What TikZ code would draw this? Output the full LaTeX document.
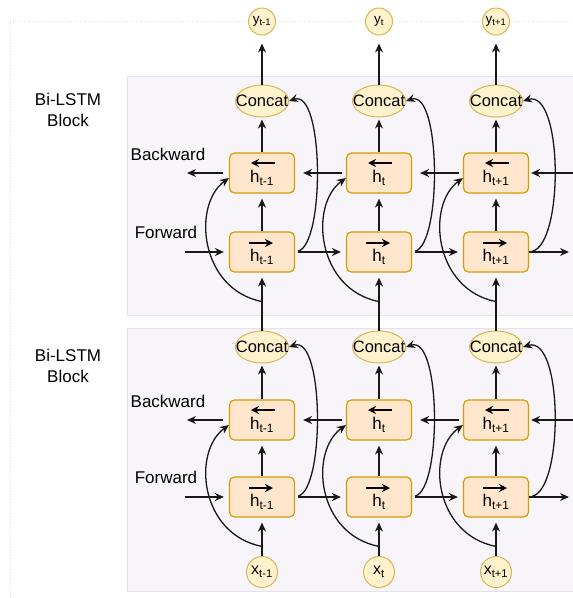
\documentclass[tikz,border=0pt]{standalone}
\usepackage{fontspec}
\setmainfont{Liberation Sans}
\usetikzlibrary{arrows.meta, shapes.geometric, calc}

\definecolor{cellfill}{HTML}{FFE6CC}
\definecolor{celldraw}{HTML}{D79B00}
\definecolor{catfill}{HTML}{FFF2CC}
\definecolor{catdraw}{HTML}{D6B656}
\definecolor{blockfill}{HTML}{F7F5FA}
\definecolor{blockdraw}{HTML}{E6E1EC}

\newcommand{\hsub}[1]{h\textsubscript{#1}}
\newcommand{\concattext}{\makebox[0pt]{Concat}}

\begin{document}
\begin{tikzpicture}[%
        x = 1pt, y = -1pt,
        > = {Stealth[length = 9pt, width = 8pt]},
        every node/.style = {%
            font = \fontsize{17}{20.5}\selectfont
        },
        cell/.style = {%
            draw = celldraw, fill = cellfill, line width = 1.2pt,
            rounded corners = 5pt, inner sep = 0pt,
            minimum width = 65pt, minimum height = 40pt,
            text height = 19pt, text depth = 0pt
        },
        hat/.style = {%
            draw = black, line width = 1.6pt, rounded corners = 0pt,
            -{Stealth[length = 8pt, width = 8pt]}
        },
        bwdcell/.style = {%
            cell,
            path picture = {%
                \draw[hat] ($(path picture bounding box.center) + (13, -10)$) -- ++(-24, 0);
            }
        },
        fwdcell/.style = {%
            cell,
            path picture = {%
                \draw[hat] ($(path picture bounding box.center) + (-13, -9)$) -- ++(24, 0);
            }
        },
        concat/.style = {%
            ellipse, draw = catdraw, fill = catfill, line width = 1pt,
            minimum width = 53pt, minimum height = 32pt, inner sep = 0pt,
            font = \fontsize{16.5}{18}\selectfont
        },
        yout/.style = {%
            circle, draw = catdraw, fill = catfill, line width = 1pt,
            minimum size = 27pt, inner sep = 0pt,
            font = \fontsize{13.5}{15}\selectfont
        },
        xin/.style = {%
            circle, draw = catdraw, fill = catfill, line width = 1pt,
            minimum size = 31pt, inner sep = 0pt,
            font = \fontsize{16}{18}\selectfont
        },
        flow/.style = {->, line width = 1.3pt, draw = black!90}
    ]

        \useasboundingbox (0, 0) rectangle (573, 598);

        % Dotted frame round the whole figure.
        \draw[gray!25, dotted, line width = 0.8pt] (10, 598) -- (10, 21) -- (580, 21);

        % The two Bi-LSTM blocks.
        \draw[fill = blockfill, draw = blockdraw, line width = 1pt] (127, 76) rectangle (590, 315);
        \draw[fill = blockfill, draw = blockdraw, line width = 1pt] (127, 328) rectangle (590, 591);

        \node[align = center] (blkU) at (68, 110) {Bi-LSTM\\Block};
        \node[align = center] (blkL) at (68, 366) {Bi-LSTM\\Block};
        \node (bwdtxtU) at (168, 154) {Backward};
        \node (fwdtxtU) at (166, 232) {Forward};
        \node (bwdtxtL) at (168, 401) {Backward};
        \node (fwdtxtL) at (166, 477) {Forward};

        % Outputs on top.
        \node[yout] (y1) at (262, 21.5) {y\textsubscript{t-1}};
        \node[yout] (y2) at (379, 21.5) {y\textsubscript{t}};
        \node[yout] (y3) at (496, 21.5) {y\textsubscript{t+1}};

        % Upper block.
        \node[concat] (catU1) at (262, 101) {\concattext};
        \node[concat] (catU2) at (379, 101) {\concattext};
        \node[concat] (catU3) at (496, 101) {\concattext};
        \node[bwdcell] (bwdU1) at (262, 173) {\hsub{t-1}};
        \node[bwdcell] (bwdU2) at (379, 173) {\hsub{t}};
        \node[bwdcell] (bwdU3) at (496, 173) {\hsub{t+1}};
        \node[fwdcell] (fwdU1) at (262, 252) {\hsub{t-1}};
        \node[fwdcell] (fwdU2) at (379, 252) {\hsub{t}};
        \node[fwdcell] (fwdU3) at (496, 252) {\hsub{t+1}};

        % Lower block.
        \node[concat] (catL1) at (262, 347) {\concattext};
        \node[concat] (catL2) at (379, 347) {\concattext};
        \node[concat] (catL3) at (496, 347) {\concattext};
        \node[bwdcell] (bwdL1) at (262, 420) {\hsub{t-1}};
        \node[bwdcell] (bwdL2) at (379, 420) {\hsub{t}};
        \node[bwdcell] (bwdL3) at (496, 420) {\hsub{t+1}};
        \node[fwdcell] (fwdL1) at (262, 497) {\hsub{t-1}};
        \node[fwdcell] (fwdL2) at (379, 497) {\hsub{t}};
        \node[fwdcell] (fwdL3) at (496, 497) {\hsub{t+1}};

        % Inputs at the bottom.
        \node[xin] (x1) at (262, 572) {x\textsubscript{t-1}};
        \node[xin] (x2) at (379, 572) {x\textsubscript{t}};
        \node[xin] (x3) at (496, 572) {x\textsubscript{t+1}};

        % Free ends of the side arrows.
        \coordinate (bwdoutU) at (187, 173);
        \coordinate (fwdinU) at (185, 252);
        \coordinate (bwdinU) at (575, 173);
        \coordinate (fwdoutU) at (569, 252);
        \coordinate (bwdoutL) at (187, 420);
        \coordinate (fwdinL) at (185, 497);
        \coordinate (bwdinL) at (575, 420);
        \coordinate (fwdoutL) at (569, 497);

        % Where the inputs split off to the backward cells.
        \coordinate (splitU1) at ($(catL1.north)!0.5!(fwdU1.south)$);
        \coordinate (splitU2) at ($(catL2.north)!0.5!(fwdU2.south)$);
        \coordinate (splitU3) at ($(catL3.north)!0.5!(fwdU3.south)$);
        \coordinate (splitL1) at ($(x1.north)!0.25!(fwdL1.south)$);
        \coordinate (splitL2) at ($(x2.north)!0.25!(fwdL2.south)$);
        \coordinate (splitL3) at ($(x3.north)!0.25!(fwdL3.south)$);

        % Concat up to the outputs.
        \draw[flow, shorten > = 8pt] (catU1.north) -- (y1.south);
        \draw[flow, shorten > = 8pt] (catU2.north) -- (y2.south);
        \draw[flow, shorten > = 8pt] (catU3.north) -- (y3.south);

        % Upward flow inside the upper block.
        \draw[flow, shorten > = 5pt] (catL1.north) -- (fwdU1.south);
        \draw[flow, shorten > = 5pt] (catL2.north) -- (fwdU2.south);
        \draw[flow, shorten > = 5pt] (catL3.north) -- (fwdU3.south);
        \draw[flow, shorten > = 5pt] (fwdU1.north) -- (bwdU1.south);
        \draw[flow, shorten > = 5pt] (fwdU2.north) -- (bwdU2.south);
        \draw[flow, shorten > = 5pt] (fwdU3.north) -- (bwdU3.south);
        \draw[flow, shorten > = 2pt] (bwdU1.north) -- (catU1.south);
        \draw[flow, shorten > = 2pt] (bwdU2.north) -- (catU2.south);
        \draw[flow, shorten > = 2pt] (bwdU3.north) -- (catU3.south);

        % Upward flow inside the lower block.
        \draw[flow, shorten > = 5pt] (x1.north) -- (fwdL1.south);
        \draw[flow, shorten > = 5pt] (x2.north) -- (fwdL2.south);
        \draw[flow, shorten > = 5pt] (x3.north) -- (fwdL3.south);
        \draw[flow, shorten > = 5pt] (fwdL1.north) -- (bwdL1.south);
        \draw[flow, shorten > = 5pt] (fwdL2.north) -- (bwdL2.south);
        \draw[flow, shorten > = 5pt] (fwdL3.north) -- (bwdL3.south);
        \draw[flow, shorten > = 2pt] (bwdL1.north) -- (catL1.south);
        \draw[flow, shorten > = 2pt] (bwdL2.north) -- (catL2.south);
        \draw[flow, shorten > = 2pt] (bwdL3.north) -- (catL3.south);

        % Forward chain, left to right.
        \draw[flow, shorten > = 5pt] (fwdinU) -- (fwdU1.west);
        \draw[flow, shorten < = 3pt, shorten > = 5pt] (fwdU1.east) -- (fwdU2.west);
        \draw[flow, shorten < = 3pt, shorten > = 5pt] (fwdU2.east) -- (fwdU3.west);
        \draw[flow] (fwdU3.east) -- (fwdoutU);
        \draw[flow, shorten > = 5pt] (fwdinL) -- (fwdL1.west);
        \draw[flow, shorten < = 3pt, shorten > = 5pt] (fwdL1.east) -- (fwdL2.west);
        \draw[flow, shorten < = 3pt, shorten > = 5pt] (fwdL2.east) -- (fwdL3.west);
        \draw[flow] (fwdL3.east) -- (fwdoutL);

        % Backward chain, right to left.
        \draw[flow, shorten > = 2pt] (bwdinU) -- (bwdU3.east);
        \draw[flow, shorten < = 4pt, shorten > = 8pt] (bwdU3.west) -- (bwdU2.east);
        \draw[flow, shorten < = 4pt, shorten > = 8pt] (bwdU2.west) -- (bwdU1.east);
        \draw[flow, shorten < = 6pt] (bwdU1.west) -- (bwdoutU);
        \draw[flow, shorten > = 2pt] (bwdinL) -- (bwdL3.east);
        \draw[flow, shorten < = 4pt, shorten > = 8pt] (bwdL3.west) -- (bwdL2.east);
        \draw[flow, shorten < = 4pt, shorten > = 8pt] (bwdL2.west) -- (bwdL1.east);
        \draw[flow, shorten < = 6pt] (bwdL1.west) -- (bwdoutL);

        % Forward states round to the concat nodes.
        \draw[flow, shorten < = 3pt] (fwdU1.east) .. controls +(30, -8) and +(35, -12) .. (catU1.east);
        \draw[flow, shorten < = 3pt] (fwdU2.east) .. controls +(30, -8) and +(35, -12) .. (catU2.east);
        \draw[flow, shorten < = 3pt] (fwdU3.east) .. controls +(35, -8) and +(40, -12) .. (catU3.east);
        \draw[flow, shorten < = 3pt] (fwdL1.east) .. controls +(30, -8) and +(35, -12) .. (catL1.east);
        \draw[flow, shorten < = 3pt] (fwdL2.east) .. controls +(30, -8) and +(35, -12) .. (catL2.east);
        \draw[flow, shorten < = 3pt] (fwdL3.east) .. controls +(35, -8) and +(40, -12) .. (catL3.east);

        % Inputs split off to the backward cells.
        \draw[flow] (splitU1) .. controls +(-62, -12) and +(-37, 27) .. ($(bwdU1.west) + (0, 5)$);
        \draw[flow] (splitU2) .. controls +(-62, -12) and +(-37, 27) .. ($(bwdU2.west) + (0, 5)$);
        \draw[flow] (splitU3) .. controls +(-62, -12) and +(-37, 27) .. ($(bwdU3.west) + (0, 5)$);
        \draw[flow] (splitL1) .. controls +(-62, -12) and +(-37, 27) .. ($(bwdL1.west) + (0, 5)$);
        \draw[flow] (splitL2) .. controls +(-62, -12) and +(-37, 27) .. ($(bwdL2.west) + (0, 5)$);
        \draw[flow] (splitL3) .. controls +(-62, -12) and +(-37, 27) .. ($(bwdL3.west) + (0, 5)$);
    \end{tikzpicture}
\end{document}
